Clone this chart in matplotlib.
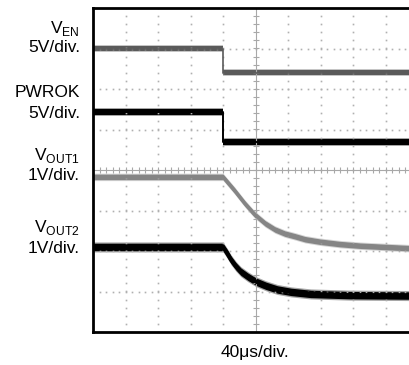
import numpy as np
import matplotlib.pyplot as plt

plt.rcParams['font.family'] = ['Liberation Sans', 'DejaVu Sans']
plt.rcParams['mathtext.fontset'] = 'custom'
plt.rcParams['mathtext.rm'] = 'Liberation Sans'

# time in us from the left edge of the screen (40us/div), level in screen divisions
ven_t = [0, 160, 160, 400]
ven = [3.0, 3.0, 2.4, 2.4]
pwrok_t = [0, 160, 160, 400]
pwrok = [1.43, 1.43, 0.70, 0.70]
vout1_t = [0, 160, 174, 187, 199, 212, 224, 236, 249, 261, 279, 304, 329, 389, 400]
vout1 = [-0.17, -0.17, -0.50, -0.83, -1.10, -1.32, -1.47, -1.57, -1.64, -1.71,
         -1.77, -1.83, -1.87, -1.93, -1.93]
vout2_t = [0, 160, 165, 170, 176, 182, 191, 201, 213, 227, 244, 268, 316, 389, 400]
vout2 = [-1.90, -1.90, -2.05, -2.22, -2.38, -2.51, -2.64, -2.76, -2.86, -2.95,
         -3.01, -3.06, -3.09, -3.10, -3.10]

ch_names = [r'V$_\mathregular{EN}$', 'PWROK', r'V$_\mathregular{OUT1}$', r'V$_\mathregular{OUT2}$']
ch_scales = ['5V/div.', '5V/div.', '1V/div.', '1V/div.']
name_base = [33, 97, 160, 232]
scale_base = [52.5, 118, 180, 253]
time_scale = '40\u03bcs/div.'

W, H = 409, 365
fig = plt.figure(figsize=(W / 100, H / 100), dpi=100)
ax = fig.add_axes([93 / W, (H - 332) / H, 325 / W, 324 / H])
ax.set_xlim(0, 400)
ax.set_ylim(-4, 4)
ax.set_xticks([])
ax.set_yticks([])
for s in ['top', 'left', 'bottom', 'right']:
    ax.spines[s].set_linewidth(2)
    ax.spines[s].set_color('black')

# dotted graticule
grid_c = '#b0b0b0'
ys = np.arange(-4, 4.01, 0.2)
xs = np.arange(0, 400.1, 8)
for i in range(1, 10):
    if i != 5:
        ax.plot(np.full(len(ys), 40 * i), ys, ls='none', marker='s', ms=1.2, mew=0, color=grid_c)
for j in range(-3, 4):
    if j != 0:
        ax.plot(xs, np.full(len(xs), j), ls='none', marker='s', ms=1.2, mew=0, color=grid_c)

# center axes with minor ticks
ax.axhline(0, color='#a8a8a8', lw=0.8)
ax.axvline(200, color='#a8a8a8', lw=0.8)
ax.plot(xs, np.zeros(len(xs)), ls='none', marker='|', ms=4, mew=0.8, color='#a8a8a8')
ax.plot(np.full(len(ys), 200), ys, ls='none', marker='_', ms=4, mew=0.8, color='#a8a8a8')


def trace(t, v, color, half, lw):
    # noisy scope trace: solid band plus a faint fringe
    v = np.array(v)
    ax.fill_between(t, v - half * 1.35, v + half * 1.35, color=color, alpha=0.35, lw=0)
    ax.fill_between(t, v - half, v + half, color=color, lw=0)
    ax.plot(t, v, color=color, lw=lw, solid_joinstyle='round')


trace(ven_t, ven, '#5a5a5a', 0.065, 1.2)
trace(pwrok_t, pwrok, '#000000', 0.075, 1.4)
trace(vout1_t, vout1, '#858585', 0.068, 2.4)
trace(vout2_t, vout2, '#000000', 0.092, 3.0)

for name, scale, nb, sb in zip(ch_names, ch_scales, name_base, scale_base):
    fig.text(80 / W, 1 - nb / H, name, ha='right', va='baseline', fontsize=12.5)
    fig.text(80 / W, 1 - sb / H, scale, ha='right', va='baseline', fontsize=12.5)

fig.text(255.5 / W, 1 - 357 / H, time_scale, ha='center', va='baseline', fontsize=12.5)

fig.savefig('out.png', dpi=100)
